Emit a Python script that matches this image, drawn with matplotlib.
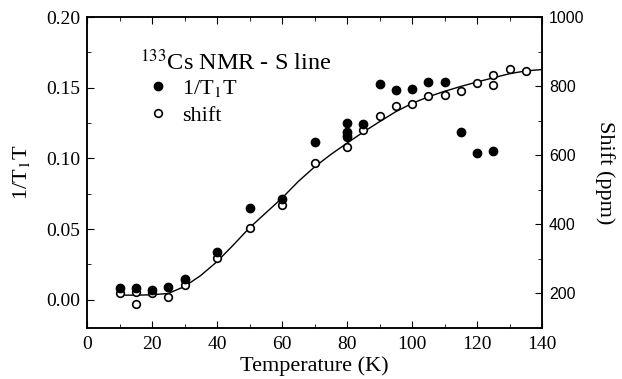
import numpy as np
import matplotlib
matplotlib.use('Agg')
import matplotlib.pyplot as plt
from matplotlib.ticker import MultipleLocator
from matplotlib.lines import Line2D

# 1/T1T (left axis)
t1_temp = [10, 15, 20, 25, 30, 40, 50, 60, 70, 80, 80, 80, 85, 90, 95, 100, 105, 110, 115, 120, 125]
t1_val = [0.0085, 0.0085, 0.007, 0.0087, 0.015, 0.0336, 0.065, 0.0714, 0.1116, 0.1253, 0.119, 0.116,
          0.1246, 0.1525, 0.1484, 0.1494, 0.1537, 0.1541, 0.119, 0.104, 0.105]

# Knight shift (right axis, ppm)
shift_temp = [10, 15, 15, 20, 25, 30, 30, 40, 50, 60, 70, 80, 80, 80, 85, 90, 95, 100, 105, 110,
              115, 120, 125, 125, 130, 135]
shift_val = [202, 203, 169, 202, 190, 238, 225, 303, 389, 455, 577, 665, 653, 624, 674, 713, 743,
             747, 772, 774, 785, 808, 832, 803, 849, 843]

# fitted curve (ppm)
fit_temp = [10, 15, 20, 25, 30, 35, 40, 45, 50, 55, 60, 65, 70, 75, 80, 85, 90, 95, 100, 105,
            110, 115, 120, 125, 130, 135, 140]
fit_val = [195, 195, 196, 200, 220, 252, 292, 340, 390, 433, 476, 524, 566, 602, 635, 667, 697,
           726, 750, 769, 785, 799, 812, 824, 836, 844, 848]

serif = 'Liberation Serif'
sans = 'Liberation Sans'
plt.rcParams['mathtext.fontset'] = 'stix'

fig = plt.figure(figsize=(6.22, 3.79), dpi=100)
ax = fig.add_axes([0.1399, 0.1346, 0.7315, 0.8205])
ax2 = ax.twinx()

ax2.plot(fit_temp, fit_val, color='black', lw=1.0, zorder=1)
ax2.plot(shift_temp, shift_val, 'o', mfc='white', mec='black', mew=1.2, ms=5.5, zorder=3)
ax.plot(t1_temp, t1_val, 'o', color='black', ms=6, zorder=4)
ax.set_zorder(ax2.get_zorder() + 1)
ax.patch.set_visible(False)

ax.set_xlim(0, 140)
ax.set_ylim(-0.02, 0.20)
ax2.set_ylim(100, 1000)

ax.xaxis.set_major_locator(MultipleLocator(20))
ax.xaxis.set_minor_locator(MultipleLocator(10))
ax.yaxis.set_minor_locator(MultipleLocator(0.025))
ax2.yaxis.set_major_locator(MultipleLocator(200))
ax2.yaxis.set_minor_locator(MultipleLocator(100))

ax.tick_params(axis='x', which='both', direction='in', top=True, labelsize=14, pad=6)
ax.tick_params(axis='x', which='major', length=5)
ax.tick_params(axis='x', which='minor', length=3)
ax.tick_params(axis='y', which='major', direction='in', length=5, labelsize=14, pad=5)
ax.tick_params(axis='y', which='minor', direction='in', length=3)
ax2.tick_params(axis='y', which='major', direction='in', length=5, labelsize=11.5, pad=5)
ax2.tick_params(axis='y', which='minor', direction='in', length=3)

ax.set_yticks([0.0, 0.05, 0.10, 0.15, 0.20])
ax.set_yticklabels(['0.00', '0.05', '0.10', '0.15', '0.20'], fontfamily=serif)
for lab in ax.get_xticklabels():
    lab.set_fontfamily(serif)
for lab in ax2.get_yticklabels():
    lab.set_fontfamily(sans)

ax.set_xlabel('Temperature (K)', fontfamily=serif, fontsize=16, labelpad=2)
ax.set_ylabel('1/T$_1$T', fontfamily=serif, fontsize=16, labelpad=10)
ax2.set_ylabel('Shift (ppm)', fontfamily=serif, fontsize=16, rotation=270, labelpad=22)

for a in (ax, ax2):
    for s in a.spines.values():
        s.set_linewidth(1.1)

handles = [Line2D([], [], ls='', marker='o', color='black', ms=6),
           Line2D([], [], ls='', marker='o', mfc='white', mec='black', mew=1.2, ms=5.5)]
leg = ax.legend(handles, ['1/T$_1$T', 'shift'], title='$^{133}$Cs NMR - S line',
                loc='upper left', bbox_to_anchor=(0.082, 0.945), frameon=False,
                prop={'family': serif, 'size': 16}, handletextpad=0.3, handlelength=1.6,
                labelspacing=0.3, borderpad=0.2)
leg.get_title().set_fontfamily(serif)
leg.get_title().set_fontsize(17.5)
leg._legend_box.align = 'left'
leg._legend_box.sep = 2

fig.savefig('out.png', dpi=100)
